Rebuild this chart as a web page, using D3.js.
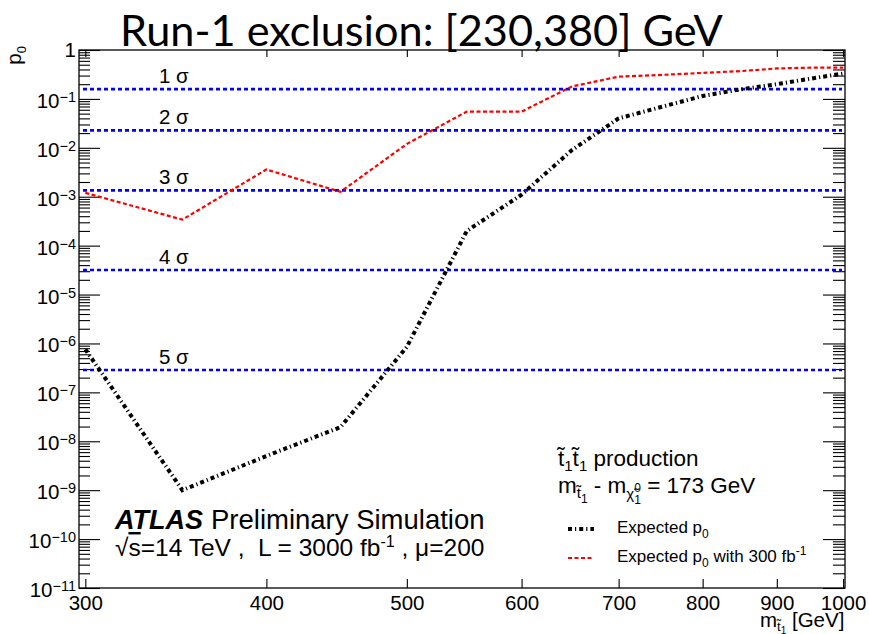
<!DOCTYPE html>
<html>
<head>
<meta charset="utf-8">
<script src="https://cdn.jsdelivr.net/npm/d3@7"></script>
<style>
  html, body { margin: 0; padding: 0; background: #fff; }
  svg { display: block; }
  text { font-family: "Liberation Sans", Arial, Helvetica, sans-serif; fill: #000; white-space: pre; }
</style>
</head>
<body>
<svg id="chart" width="869" height="634"></svg>
<script>
// Stop-quark mass points [GeV]
const masses = [300, 350, 400, 450, 500, 550, 600, 650, 700, 750, 800, 850, 900, 950, 1000];
// Expected p0, 3000 fb-1
const expectedP0 = [7.6e-7, 1.0e-9, 5.0e-9, 1.95e-8, 8.5e-7, 2.0e-4, 1.1e-3, 9.0e-3, 4.0e-2, 6.9e-2, 0.115, 0.157, 0.20, 0.26, 0.33];
// Expected p0, 300 fb-1
const expectedP0Lumi300 = [1.2e-3, 3.4e-4, 3.6e-3, 1.26e-3, 1.2e-2, 5.5e-2, 5.5e-2, 0.18, 0.285, 0.31, 0.34, 0.37, 0.42, 0.435, 0.435];
// One-sided p-values of the significance reference lines
const sigmaLevels = [1, 2, 3, 4, 5];
const sigmaP0 = [0.1587, 0.02275, 0.00135, 3.167e-5, 2.867e-7];
// Axis ticks
const xTickValues = [300, 400, 500, 600, 700, 800, 900, 1000];
const yDecades = d3.range(-11, 1);

const svg = d3.select("#chart");
const plot = { left: 79, top: 50, right: 845, bottom: 588 };

const x = d3.scaleLog().domain([297, 1003]).range([plot.left, plot.right]);
const y = d3.scaleLog().domain([1e-11, 1]).range([plot.bottom, plot.top]);

// Text width helper for building composite labels
const measurer = svg.append("text").attr("visibility", "hidden");
function textWidth(str, size, weight, style, family) {
  measurer.attr("font-size", size)
    .attr("font-weight", weight || "normal")
    .attr("font-style", style || "normal")
    .style("font-family", family || null)
    .text(str);
  return measurer.node().getComputedTextLength();
}

// Title
const titleFont = "Lato, 'Open Sans', sans-serif";
const titleText = "Run-1 exclusion: [230,380] GeV";
const titleSize = 40 * 603 / textWidth(titleText, 40, "normal", "normal", titleFont);
svg.append("text")
  .attr("x", 120).attr("y", 46)
  .attr("font-size", titleSize)
  .style("font-family", titleFont)
  .text(titleText);

// Minor ticks (2..9 per decade)
const minorTicks = [];
yDecades.slice(0, -1).forEach(k => {
  for (let m = 2; m <= 9; m++) minorTicks.push(m * Math.pow(10, k));
});
const majorTicks = yDecades.map(k => Math.pow(10, k));

function styleAxis(g) {
  g.select(".domain").remove();
  g.selectAll(".tick line").attr("stroke", "#000").attr("stroke-width", 1.1);
}

svg.append("g").attr("transform", `translate(${plot.left},0)`)
  .call(d3.axisLeft(y).tickValues(majorTicks).tickSize(-21).tickFormat(""))
  .call(styleAxis);
svg.append("g").attr("transform", `translate(${plot.left},0)`)
  .call(d3.axisLeft(y).tickValues(minorTicks).tickSize(-11).tickFormat(""))
  .call(styleAxis);
svg.append("g").attr("transform", `translate(${plot.right},0)`)
  .call(d3.axisRight(y).tickValues(majorTicks).tickSize(-22).tickFormat(""))
  .call(styleAxis);
svg.append("g").attr("transform", `translate(${plot.right},0)`)
  .call(d3.axisRight(y).tickValues(minorTicks).tickSize(-12).tickFormat(""))
  .call(styleAxis);

// Y tick labels: 1, 10^-1 ... 10^-11
const yLabels = svg.append("g").attr("font-size", 20.5);
yDecades.forEach(k => {
  const t = yLabels.append("text").attr("x", 76).attr("text-anchor", "end");
  if (k === 0) {
    t.attr("y", y(1) + 7).text("1");
  } else {
    t.attr("y", y(Math.pow(10, k)) + 9);
    t.append("tspan").text("10");
    t.append("tspan").attr("font-size", 14.5).attr("dy", -6).text("\u2212" + (-k));
  }
});

// X axis
svg.append("g").attr("transform", `translate(0,${plot.bottom})`)
  .call(d3.axisBottom(x).tickValues(xTickValues).tickSize(-9).tickPadding(7).tickFormat(d3.format("d")))
  .call(styleAxis)
  .call(g => g.selectAll(".tick text")
    .attr("font-size", 20.5).attr("fill", "#000")
    .style("font-family", "'Liberation Sans', Arial, sans-serif"));
svg.append("g").attr("transform", `translate(0,${plot.top})`)
  .call(d3.axisTop(x).tickValues(xTickValues).tickSize(-7).tickFormat(""))
  .call(styleAxis);

// Frame
svg.append("rect")
  .attr("x", plot.left).attr("y", plot.top)
  .attr("width", plot.right - plot.left).attr("height", plot.bottom - plot.top)
  .attr("fill", "none").attr("stroke", "#000").attr("stroke-width", 1.3);

// Significance reference lines
const sigmaG = svg.append("g");
sigmaP0.forEach((p, i) => {
  sigmaG.append("line")
    .attr("x1", plot.left + 4).attr("x2", plot.right - 3)
    .attr("y1", y(p)).attr("y2", y(p))
    .attr("stroke", "#0000ff").attr("stroke-width", 2.6)
    .attr("stroke-dasharray", "4,3");
  sigmaG.append("text")
    .attr("x", 159).attr("y", y(p) - 6)
    .attr("font-size", 20.5)
    .text(sigmaLevels[i] + " \u03c3");
});

// Curves
const line = d3.line().x(d => x(d[0])).y(d => y(d[1]));
const redData = masses.map((m, i) => [m, expectedP0Lumi300[i]]);
const blackData = masses.map((m, i) => [m, expectedP0[i]]);

svg.append("path").datum(redData)
  .attr("d", line).attr("fill", "none")
  .attr("stroke", "#ff0000").attr("stroke-width", 2.2)
  .attr("stroke-dasharray", "4,2.5");

svg.append("path").datum(blackData)
  .attr("d", line).attr("fill", "none")
  .attr("stroke", "#000").attr("stroke-width", 4)
  .attr("stroke-dasharray", "4,3,1.2,3");

// ATLAS label
const atlas = svg.append("g");
atlas.append("text").attr("x", 115).attr("y", 529)
  .attr("font-size", 27).attr("font-weight", "bold").attr("font-style", "italic")
  .text("ATLAS");
atlas.append("text").attr("x", 211).attr("y", 529)
  .attr("font-size", 27.5).text("Preliminary Simulation");
const l2 = atlas.append("text").attr("x", 115).attr("y", 556).attr("font-size", 24.5);
l2.append("tspan").text("\u221a");
l2.append("tspan").style("text-decoration", "overline").text("s");
l2.append("tspan").text("=14 TeV ,  L = 3000 fb");
l2.append("tspan").attr("font-size", 16).attr("dy", -9).text("-1");
l2.append("tspan").attr("dy", 9).text(" , \u03bc=200");

// Process description
const leg = svg.append("g");
const h1 = leg.append("text").attr("x", 558).attr("y", 466).attr("font-size", 22.5);
h1.append("tspan").text("t\u0303");
h1.append("tspan").attr("font-size", 15).attr("dy", 5).text("1");
h1.append("tspan").attr("dy", -5).text("t\u0303");
h1.append("tspan").attr("font-size", 15).attr("dy", 5).text("1");
h1.append("tspan").attr("dy", -5).text(" production");

const h2 = leg.append("text").attr("x", 558).attr("y", 493).attr("font-size", 22.5);
h2.append("tspan").text("m");
h2.append("tspan").attr("font-size", 15).attr("dy", 5).text("t\u0303");
h2.append("tspan").attr("font-size", 12).attr("dy", 5).text("1");
h2.append("tspan").attr("dy", -10).text(" - m");
h2.append("tspan").attr("font-size", 15).attr("dy", 6).text("\u03c7\u0303");
h2.append("tspan").attr("font-size", 12).attr("dy", -7).text("0");
h2.append("tspan").attr("font-size", 12).attr("dy", 12)
  .attr("dx", -textWidth("0", 12)).text("1");
h2.append("tspan").attr("dy", -11).text(" = 173 GeV");

// Legend entries
const legendRows = [
  { y: 529, color: "#000", width: 4, dash: "4,3,1.2,3", label: "Expected p", extra: false },
  { y: 558, color: "#ff0000", width: 2.2, dash: "4,2.5", label: "Expected p", extra: true }
];
legendRows.forEach(r => {
  leg.append("line")
    .attr("x1", 568).attr("x2", 594).attr("y1", r.y).attr("y2", r.y)
    .attr("stroke", r.color).attr("stroke-width", r.width)
    .attr("stroke-dasharray", r.dash);
  const t = leg.append("text").attr("x", 617).attr("y", r.y + 4).attr("font-size", 17);
  t.append("tspan").text(r.label);
  t.append("tspan").attr("font-size", 12).attr("dy", 5).text("0");
  if (r.extra) {
    t.append("tspan").attr("dy", -5).text(" with 300 fb");
    t.append("tspan").attr("font-size", 12).attr("dy", -7).text("-1");
  }
});

// Axis titles
const xt = svg.append("text").attr("x", 760).attr("y", 627).attr("font-size", 20.5);
xt.append("tspan").text("m");
xt.append("tspan").attr("font-size", 13).attr("dy", 4).text("t\u0303");
xt.append("tspan").attr("font-size", 10).attr("dy", 3).text("1");
xt.append("tspan").attr("dy", -7).text(" [GeV]");

const yt = svg.append("text")
  .attr("transform", "translate(21,46) rotate(-90)")
  .attr("text-anchor", "end").attr("font-size", 20.5);
yt.append("tspan").text("p");
yt.append("tspan").attr("font-size", 13).attr("dy", 5).text("0");

measurer.remove();
</script>
</body>
</html>
